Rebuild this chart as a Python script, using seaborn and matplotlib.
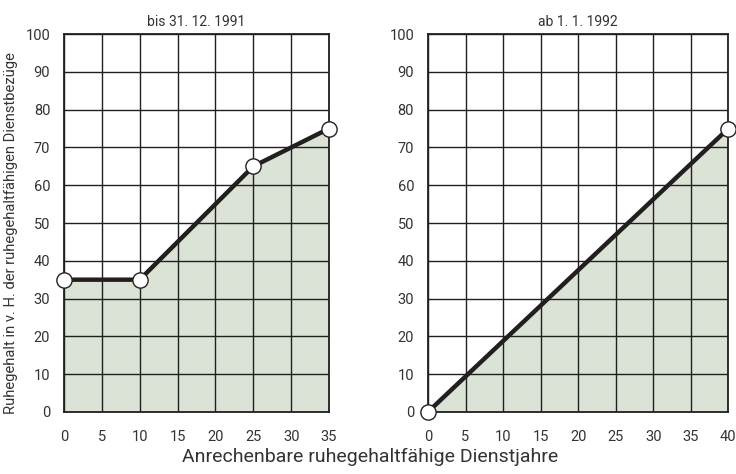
# Ruhegehalt nach Dienstjahren - alt vs. neu
import numpy as np
import pandas as pd
import matplotlib
matplotlib.use("Agg")
import matplotlib.pyplot as plt
import seaborn as sns

# Daten
jahre_alt = [0, 10, 25, 35]
satz_alt = [35, 35, 65, 75]
jahre_neu = [0, 40]
satz_neu = [0, 75]
titel = ["bis 31. 12. 1991", "ab 1. 1. 1992"]
y_ticks = list(range(0, 101, 10))

WARNA_GARIS = "#231f20"
WARNA_ISI = "#dae3d6"

sns.set_style("white")
plt.rcParams["font.family"] = ["Roboto", "DejaVu Sans"]

fig = plt.figure(figsize=(7.36, 4.74), dpi=100)
ax1 = fig.add_axes([0.087, 0.131, 0.360, 0.797])
ax2 = fig.add_axes([0.5815, 0.131, 0.408, 0.797])


def gambar(ax, xs, ys, xmax, judul):
    df = pd.DataFrame({"x": xs, "y": ys})
    ax.fill_between(df["x"], df["y"], 0, color=WARNA_ISI, zorder=1, lw=0)
    sns.lineplot(data=df, x="x", y="y", ax=ax, color=WARNA_GARIS, lw=3.2,
                 marker="o", markersize=11, markerfacecolor="white",
                 markeredgecolor=WARNA_GARIS, markeredgewidth=1.0,
                 zorder=5, clip_on=False)
    ax.set_xlim(0, xmax)
    ax.set_ylim(0, 100)
    ax.set_xticks(list(range(0, xmax + 1, 5)))
    ax.set_yticks(y_ticks)
    ax.grid(True, color=WARNA_GARIS, lw=1.0, zorder=2)
    ax.set_axisbelow(False)
    for sp in ax.spines.values():
        sp.set_color(WARNA_GARIS)
        sp.set_linewidth(1.3)
        sp.set_zorder(3)
    ax.tick_params(axis="x", length=0, pad=13, labelsize=10.5, colors="#333333")
    ax.tick_params(axis="y", length=0, pad=10, labelsize=10.5, colors="#333333")
    ax.set_title(judul, fontsize=10, color="#333333", pad=6)
    ax.set_xlabel("")
    ax.set_ylabel("")
    for gl in ax.get_xgridlines() + ax.get_ygridlines():
        gl.set_zorder(2)


gambar(ax1, jahre_alt, satz_alt, 35, titel[0])
gambar(ax2, jahre_neu, satz_neu, 40, titel[1])

ax1.set_ylabel("Ruhegehalt in v. H. der ruhegehaltfähigen Dienstbezüge",
               fontsize=10.6, color="#333333")
ax1.yaxis.set_label_coords(-0.172, 0.474)
fig.text(0.503, 0.036, "Anrechenbare ruhegehaltfähige Dienstjahre",
         ha="center", va="center", fontsize=14, color="#333333")

plt.savefig("out.png", dpi=100)
